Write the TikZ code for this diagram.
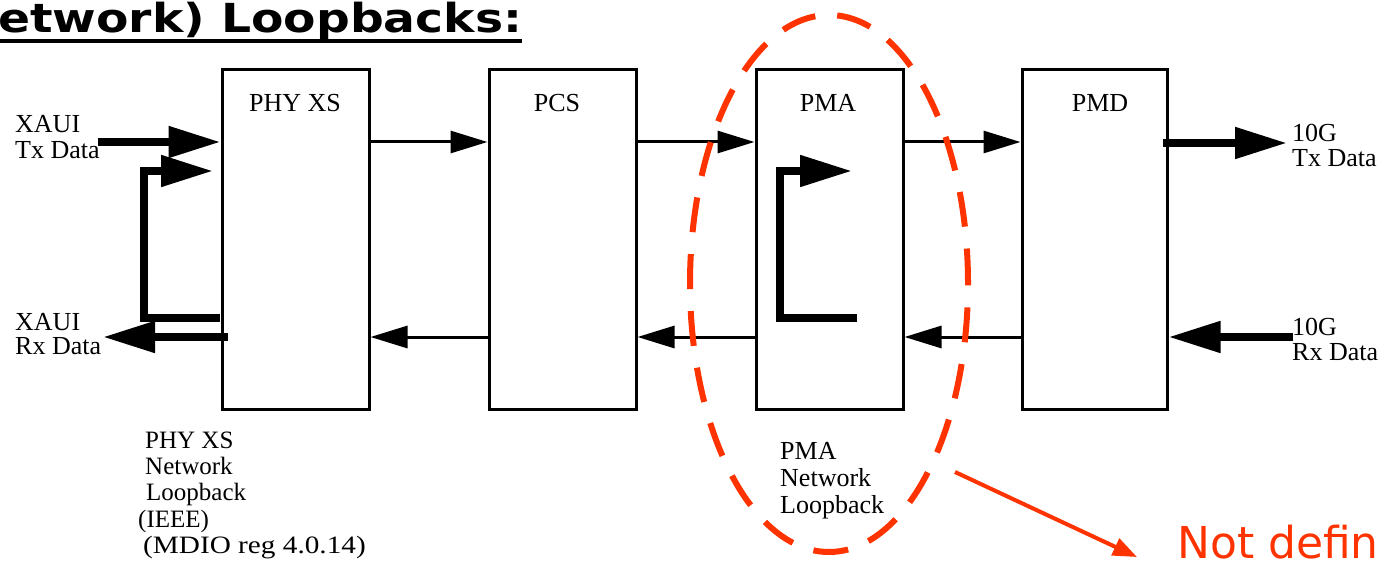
\documentclass[tikz,border=0pt]{standalone}
\usepackage{fontspec}
\setmainfont{Liberation Serif}
\newfontfamily\dejavu{DejaVu Sans}
\usetikzlibrary{arrows.meta,shapes.geometric}
\definecolor{redo}{RGB}{255,51,0}
\begin{document}
\begin{tikzpicture}[x=1pt,y=-1pt,
  box/.style={draw, line width=3pt, minimum width=147pt, minimum height=340pt, inner sep=0pt},
  boxlabel/.style={anchor=base, inner sep=0pt, font=\fontsize{26}{27}\selectfont},
  sidelabel/.style={anchor=base west, inner sep=0pt, font=\fontsize{26}{27}\selectfont},
  botlabel/.style={anchor=base west, inner sep=0pt, font=\fontsize{25}{27}\selectfont},
  thinarrow/.style={line width=3pt, -{Triangle[length=37pt, width=22pt]}},
  thickarrow/.style={line width=8pt, -{Triangle[length=52pt, width=30pt]}}
]
\useasboundingbox (0,0) rectangle (1383,561);

% title
\node[anchor=base west, inner sep=0pt, font=\dejavu\bfseries\fontsize{40}{42}\selectfont] (title) at (-2,33) {\scalebox{1.18}[1]{etwork) Loopbacks:}};
\coordinate (ulA) at (0,41);
\coordinate (ulB) at (522,41);
\draw[line width=4pt] (ulA) -- (ulB);

% boxes
\node[box] (phy) at (295.5,239.5) {};
\node[box] (pcs) at (562.5,239.5) {};
\node[box] (pma) at (829.5,239.5) {};
\node[box, minimum width=145pt] (pmd) at (1094.5,239.5) {};

\node[boxlabel] (lphy) at (295,112) {PHY XS};
\node[boxlabel] (lpcs) at (557,112) {PCS};
\node[boxlabel] (lpma) at (828,112) {PMA};
\node[boxlabel] (lpmd) at (1100,112) {PMD};

% reference rows
\coordinate (yTx) at (0,142);
\coordinate (yRx) at (0,337);

% thin arrows between boxes
\draw[thinarrow] (phy.east |- yTx) -- (pcs.west |- yTx);
\draw[thinarrow] (pcs.east |- yTx) -- (pma.west |- yTx);
\draw[thinarrow] (pma.east |- yTx) -- (pmd.west |- yTx);
\draw[thinarrow] (pcs.west |- yRx) -- (phy.east |- yRx);
\draw[thinarrow] (pma.west |- yRx) -- (pcs.east |- yRx);
\draw[thinarrow] (pmd.west |- yRx) -- (pma.east |- yRx);

% XAUI side
\node[sidelabel] (xtx1) at (15,133) {XAUI};
\node[sidelabel] (xtx2) at (15,159) {Tx Data};
\node[sidelabel] (xrx1) at (15,330) {XAUI};
\node[sidelabel] (xrx2) at (15,354) {Rx Data};
\coordinate (xtxs) at (98,142);
\draw[thickarrow] (xtxs) -- (phy.west |- yTx);
\coordinate (xrxs) at (228,337);
\coordinate (xrxe) at (103,337);
\draw[thickarrow] (xrxs) -- (xrxe);

% PHY XS network loopback
\coordinate (lb1) at (220,318);
\coordinate (lb2) at (144,318);
\coordinate (lb3) at (144,171);
\coordinate (lb4) at (213,171);
\draw[thickarrow] (lb1) -- (lb2) -- (lb3) -- (lb4);

% PMA network loopback
\coordinate (pl1) at (857,318);
\coordinate (pl2) at (780,318);
\coordinate (pl3) at (780,171);
\coordinate (pl4) at (852,171);
\draw[thickarrow] (pl1) -- (pl2) -- (pl3) -- (pl4);

% 10G side
\coordinate (gtxs) at (1163,143);
\coordinate (gtxe) at (1287,143);
\draw[thickarrow] (gtxs) -- (gtxe);
\coordinate (grxs) at (1293,337);
\draw[thickarrow] (grxs) -- (pmd.east |- yRx);
\node[sidelabel] (gtx1) at (1292,142) {10G};
\node[sidelabel] (gtx2) at (1292,167) {Tx Data};
\node[sidelabel] (grx1) at (1292,335) {10G};
\node[sidelabel] (grx2) at (1292,360) {Rx Data};

% bottom labels
\node[botlabel] (b1) at (145,448) {PHY XS};
\node[botlabel] (b2) at (145,474) {Network};
\node[botlabel] (b3) at (146,500) {Loopback};
\node[botlabel] (b4) at (138,527) {(IEEE)};
\node[botlabel] (b5) at (143,553) {\scalebox{1.17}[1]{(MDIO reg 4.0.14)}};

\node[botlabel, font=\fontsize{26}{27}\selectfont] (p1) at (780,459) {PMA};
\node[botlabel, font=\fontsize{26}{27}\selectfont] (p2) at (780,486) {Network};
\node[botlabel, font=\fontsize{26}{27}\selectfont] (p3) at (780,513) {Loopback};

% red ellipse and arrow
\node[draw=redo, line width=6pt, dash pattern=on 35pt off 22pt, ellipse, minimum width=278pt, minimum height=537pt, inner sep=0pt] (ell) at (829,283.5) {};
\coordinate (ra) at (955,472);
\coordinate (rb) at (1137,557);
\draw[redo, line width=4pt, -{Triangle[length=24pt, width=18pt]}] (ra) -- (rb);
\node[anchor=base west, inner sep=0pt, text depth=0pt, text=redo, font=\dejavu\fontsize{44}{46}\selectfont] (nd) at (1177,558) {Not defin};
\end{tikzpicture}
\end{document}
